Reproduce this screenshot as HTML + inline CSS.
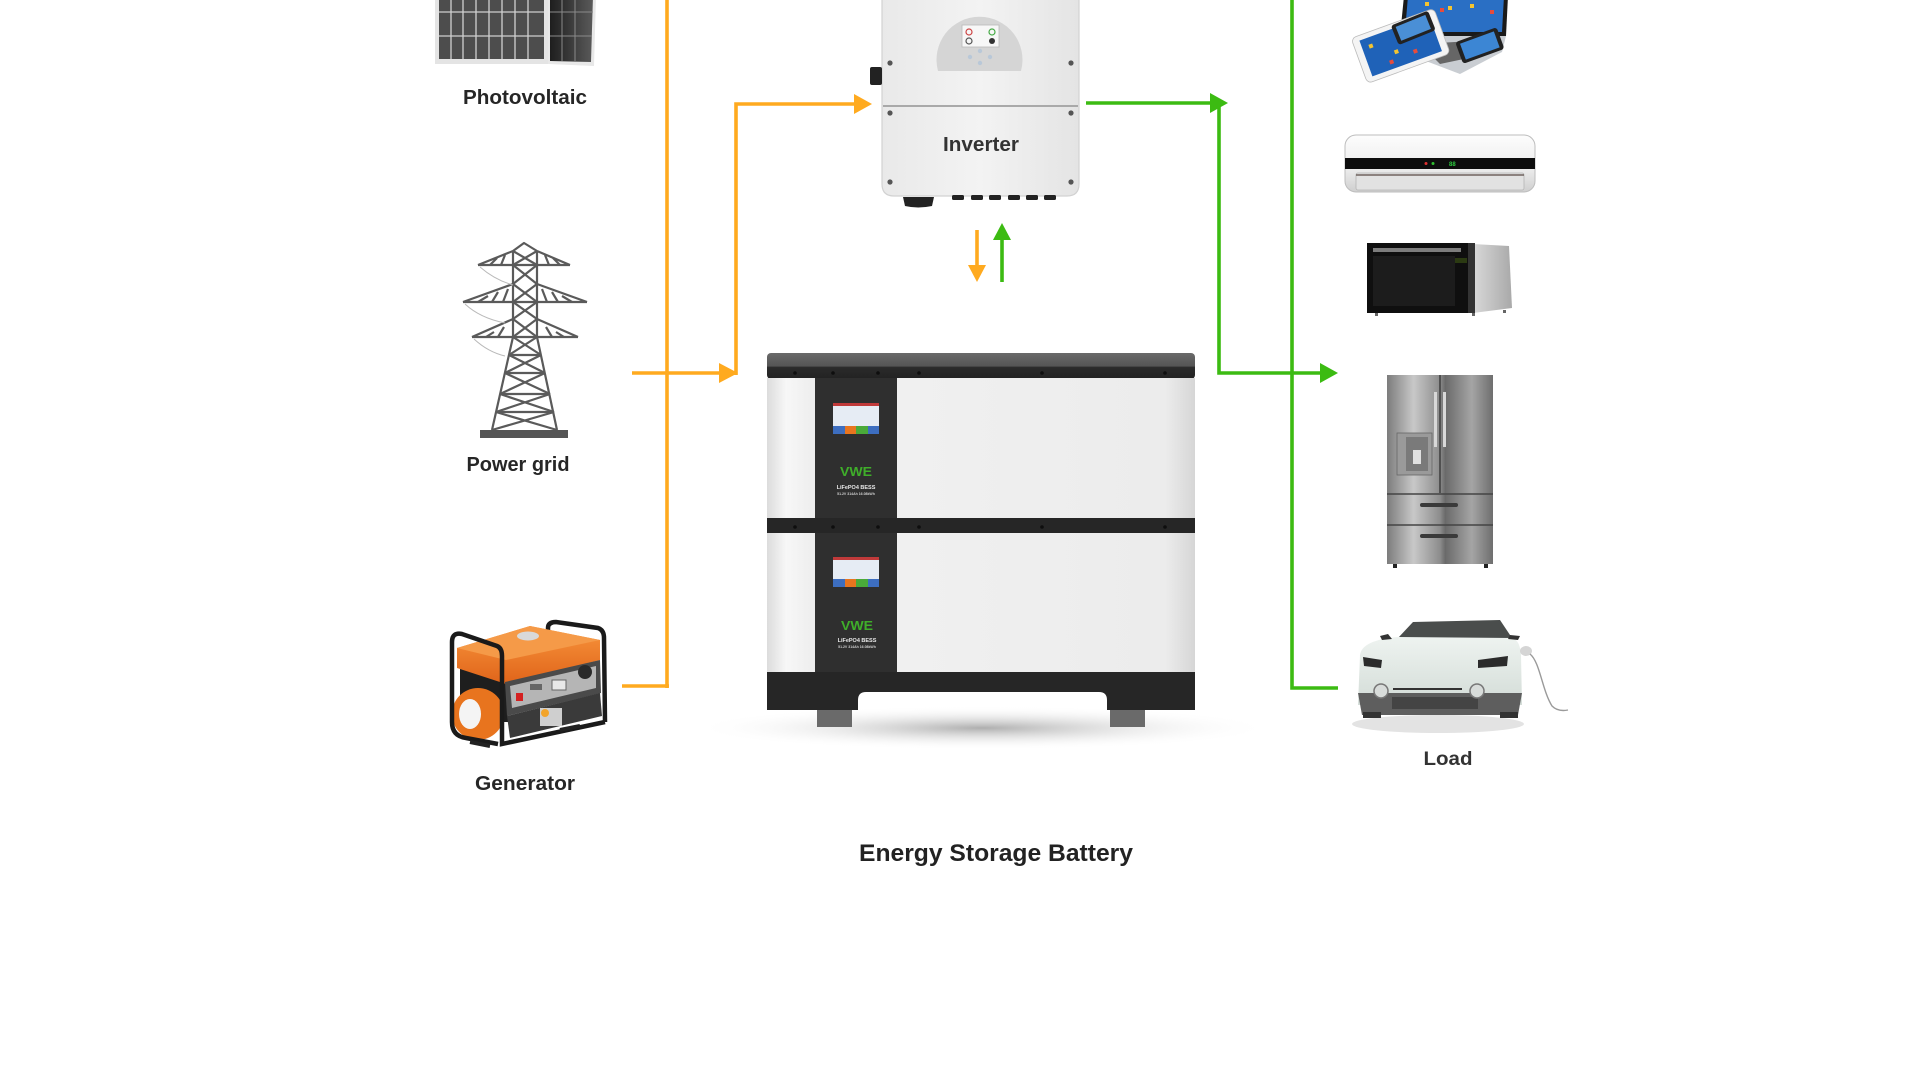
<!DOCTYPE html>
<html>
<head>
<meta charset="utf-8">
<style>
html,body{margin:0;padding:0;background:#fff;}
svg{display:block;}
text{font-family:"Liberation Sans",Arial,sans-serif;font-weight:700;}
</style>
</head>
<body>
<svg width="1920" height="1080" viewBox="0 0 1920 1080" xmlns="http://www.w3.org/2000/svg">
<defs>
  <linearGradient id="invG" x1="0" x2="1" y1="0" y2="0">
    <stop offset="0" stop-color="#e9e9e9"/><stop offset="0.5" stop-color="#f3f3f3"/><stop offset="1" stop-color="#e4e4e4"/>
  </linearGradient>
  <linearGradient id="modL" x1="0" x2="1">
    <stop offset="0" stop-color="#dcdcdc"/><stop offset="0.4" stop-color="#f7f7f7"/><stop offset="1" stop-color="#ededed"/>
  </linearGradient>
  <linearGradient id="modR" x1="0" x2="1">
    <stop offset="0" stop-color="#f0f0f0"/><stop offset="0.9" stop-color="#ececec"/><stop offset="1" stop-color="#d6d6d6"/>
  </linearGradient>
  <linearGradient id="lidG" x1="0" x2="0" y1="0" y2="1">
    <stop offset="0" stop-color="#6a6a6a"/><stop offset="0.5" stop-color="#555"/><stop offset="0.55" stop-color="#2b2b2b"/><stop offset="1" stop-color="#222"/>
  </linearGradient>
  <radialGradient id="shadowG" cx="0.5" cy="0.5" r="0.5">
    <stop offset="0" stop-color="#9a9a9a" stop-opacity="0.8"/><stop offset="1" stop-color="#fff" stop-opacity="0"/>
  </radialGradient>
  <linearGradient id="fridgeG" x1="0" x2="1">
    <stop offset="0" stop-color="#7c7c7c"/><stop offset="0.25" stop-color="#c8c8c8"/><stop offset="0.5" stop-color="#8d8d8d"/><stop offset="0.55" stop-color="#6a6a6a"/><stop offset="0.8" stop-color="#a5a5a5"/><stop offset="1" stop-color="#6e6e6e"/>
  </linearGradient>
  <linearGradient id="acG" x1="0" x2="0" y1="0" y2="1">
    <stop offset="0" stop-color="#fdfdfd"/><stop offset="0.6" stop-color="#ececec"/><stop offset="1" stop-color="#cfcfcf"/>
  </linearGradient>
  <linearGradient id="mwSide" x1="0" x2="1">
    <stop offset="0" stop-color="#d9d9d9"/><stop offset="1" stop-color="#a9a9a9"/>
  </linearGradient>
  <linearGradient id="carG" x1="0" x2="0" y1="0" y2="1">
    <stop offset="0" stop-color="#eef3f0"/><stop offset="1" stop-color="#d3dcd7"/>
  </linearGradient>
  <linearGradient id="pvR" x1="0" x2="1">
    <stop offset="0" stop-color="#1e1e1e"/><stop offset="1" stop-color="#5a5a5a"/>
  </linearGradient>
  <linearGradient id="orangeG" x1="0" x2="0" y1="0" y2="1">
    <stop offset="0" stop-color="#f8953c"/><stop offset="1" stop-color="#e0641a"/>
  </linearGradient>
</defs>

<rect width="1920" height="1080" fill="#fff"/>

<!-- ================= Photovoltaic ================= -->
<g>
  <rect x="435" y="-4" width="113" height="68" fill="#e4e4e4"/>
  <rect x="439" y="-4" width="105" height="63" fill="#4d4d4d"/>
  <g stroke="#cfcfcf" stroke-width="1.3">
    <line x1="439" y1="12" x2="544" y2="12"/>
    <line x1="439" y1="36" x2="544" y2="36"/>
    <line x1="451" y1="-4" x2="451" y2="59"/><line x1="463" y1="-4" x2="463" y2="59"/>
    <line x1="476" y1="-4" x2="476" y2="59"/><line x1="489" y1="-4" x2="489" y2="59"/>
    <line x1="502" y1="-4" x2="502" y2="59"/><line x1="515" y1="-4" x2="515" y2="59"/>
    <line x1="528" y1="-4" x2="528" y2="59"/>
  </g>
  <polygon points="548,-4 596,-4 594,66 548,64" fill="#e8e8e8"/>
  <polygon points="550,-4 593,-4 591,62 550,61" fill="url(#pvR)"/>
  <g stroke="#8a8a8a" stroke-width="1">
    <line x1="550" y1="12" x2="593" y2="12"/><line x1="550" y1="36" x2="592" y2="36"/>
    <line x1="562" y1="-4" x2="562" y2="61"/><line x1="575" y1="-4" x2="575" y2="61"/>
  </g>
</g>
<text x="525" y="104" font-size="20" text-anchor="middle" textLength="124" lengthAdjust="spacingAndGlyphs" style="fill:#262626">Photovoltaic</text>

<!-- ================= Power tower ================= -->
<g stroke="#5a5a5a" stroke-width="2.2" fill="none" stroke-linejoin="round">
  <path d="M513,251 L513,337 L492,430 M537,251 L537,337 L557,430 M513,251 L524,243 L537,251"/>
  <path d="M478,265 L570,265 M478,265 L513,251 M570,265 L537,251"/>
  <path d="M463,302 L587,302 M463,302 L513,284 M587,302 L537,284"/>
  <path d="M472,337 L578,337 M472,337 L513,319 M578,337 L537,319"/>
  <path d="M513,251 L537,265 M537,251 L513,265 M513,265 L537,284 M537,265 L513,284 M513,284 L537,302 M537,284 L513,302 M513,302 L537,319 M537,302 L513,319 M513,319 L537,337 M537,319 L513,337"/>
  <path d="M490,265 L497,258 M501,265 L505,255 M560,265 L553,258 M549,265 L545,255"/>
  <path d="M478,302 L488,296 M492,302 L498,292 M503,302 L508,289 M572,302 L562,296 M558,302 L552,292 M547,302 L542,289"/>
  <path d="M486,337 L494,332 M498,337 L504,327 M564,337 L556,332 M552,337 L546,327"/>
  <path d="M509,355 L541,355 M505,373 L545,373 M500,394 L550,394 M496,412 L554,412"/>
  <path d="M513,337 L541,355 M537,337 L509,355 M509,355 L545,373 M541,355 L505,373 M505,373 L550,394 M545,373 L500,394 M500,394 L554,412 M550,394 L496,412 M496,412 L557,430 M554,412 L492,430"/>
</g>
<g stroke="#b9b9b9" stroke-width="1" fill="none">
  <path d="M480,267 Q495,280 513,285"/>
  <path d="M465,304 Q480,318 505,323"/>
  <path d="M474,339 Q488,352 505,356"/>
</g>
<rect x="480" y="430" width="88" height="8" fill="#555"/>
<text x="518" y="471" font-size="20" text-anchor="middle" textLength="103" lengthAdjust="spacingAndGlyphs" style="fill:#262626">Power grid</text>

<!-- ================= Generator ================= -->
<g>
  <path d="M548,640 L548,628 Q548,622 556,622 L598,628 Q604,630 604,638 L605,722" stroke="#1a1a1a" stroke-width="4.5" fill="none"/>
  <rect x="460" y="664" width="48" height="58" fill="#1e1e1e"/>
  <polygon points="457,648 530,626 600,640 600,660 506,684 457,668" fill="url(#orangeG)"/>
  <polygon points="457,648 530,626 600,640 506,660" fill="#f59a48"/>
  <ellipse cx="528" cy="636" rx="11" ry="4.5" fill="#d9d9d9"/>
  <polygon points="505,682 600,660 601,693 507,716" fill="#4a4a4a"/>
  <polygon points="510,686 596,666 596,688 512,708" fill="#b5b5b5"/>
  <rect x="516" y="693" width="7" height="8" fill="#d42020"/>
  <rect x="530" y="684" width="12" height="6" fill="#666"/>
  <rect x="552" y="680" width="14" height="10" fill="#e8e8e8" stroke="#666" stroke-width="1"/>
  <circle cx="585" cy="672" r="7" fill="#2a2a2a"/>
  <polygon points="507,716 600,693 602,716 510,738" fill="#3a3a3a"/>
  <rect x="540" y="708" width="22" height="18" fill="#cfcfcf"/>
  <circle cx="545" cy="713" r="4" fill="#f2a42a"/>
  <circle cx="478" cy="714" r="26" fill="#e8741e"/>
  <ellipse cx="470" cy="714" rx="11" ry="15" fill="#f4f4f4"/>
  <path d="M452,642 L452,722 Q452,736 466,738 L498,744" stroke="#1a1a1a" stroke-width="4.5" fill="none"/>
  <path d="M452,642 Q452,632 462,634 L497,646 Q502,648 502,656 L502,744 L605,722" stroke="#1a1a1a" stroke-width="4.5" fill="none"/>
  <path d="M470,742 L490,746 M560,730 L580,726" stroke="#222" stroke-width="4"/>
</g>
<text x="525" y="790" font-size="20" text-anchor="middle" textLength="100" lengthAdjust="spacingAndGlyphs" style="fill:#262626">Generator</text>

<!-- ================= Orange lines ================= -->
<g stroke="#FFAA1F" stroke-width="3.6" fill="none">
  <line x1="667" y1="-2" x2="667" y2="688"/>
  <line x1="622" y1="686" x2="669" y2="686"/>
  <line x1="632" y1="373" x2="722" y2="373"/>
  <polyline points="736,375 736,104 856,104"/>
  <line x1="977" y1="230" x2="977" y2="267"/>
</g>
<g fill="#FFAA1F">
  <polygon points="719,363 738,373 719,383"/>
  <polygon points="854,94 872,104 854,114"/>
  <polygon points="968,265 977,282 986,265"/>
</g>

<!-- ================= Green lines ================= -->
<g stroke="#3CBB12" stroke-width="3.6" fill="none">
  <line x1="1086" y1="103" x2="1213" y2="103"/>
  <polyline points="1219,103 1219,373 1322,373"/>
  <polyline points="1292,-2 1292,688 1338,688"/>
  <line x1="1002" y1="282" x2="1002" y2="238"/>
</g>
<g fill="#3CBB12">
  <polygon points="1210,93 1228,103 1210,113"/>
  <polygon points="1320,363 1338,373 1320,383"/>
  <polygon points="993,240 1002,223 1011,240"/>
</g>

<!-- ================= Inverter ================= -->
<g>
  <path d="M882,-6 L1079,-6 L1079,184 Q1079,196 1067,196 L894,196 Q882,196 882,184 Z" fill="url(#invG)" stroke="#d2d2d2" stroke-width="1.2"/>
  <line x1="883" y1="106" x2="1078" y2="106" stroke="#a9a9a9" stroke-width="2"/>
  <path d="M938,71 A43,43 0 1 1 1021,71 Z" fill="#d5d5d5"/>
  <rect x="962" y="25" width="37" height="22" fill="#f7f7f7" stroke="#b8b8b8" stroke-width="0.8"/>
  <circle cx="969" cy="32" r="3" fill="none" stroke="#c44" stroke-width="1.2"/>
  <circle cx="992" cy="32" r="3" fill="none" stroke="#4a4" stroke-width="1.2"/>
  <circle cx="969" cy="41" r="3" fill="none" stroke="#555" stroke-width="1.2"/>
  <circle cx="992" cy="41" r="3" fill="#333"/>
  <g fill="#b9c8d8"><circle cx="980" cy="51" r="2.2"/><circle cx="970" cy="57" r="2.2"/><circle cx="990" cy="57" r="2.2"/><circle cx="980" cy="63" r="2.2"/></g>
  <g fill="#555">
    <circle cx="890" cy="63" r="2.6"/><circle cx="1071" cy="63" r="2.6"/>
    <circle cx="890" cy="113" r="2.6"/><circle cx="1071" cy="113" r="2.6"/>
    <circle cx="890" cy="182" r="2.6"/><circle cx="1071" cy="182" r="2.6"/>
  </g>
  <rect x="870" y="67" width="12" height="18" rx="2" fill="#222"/>
  <path d="M903,197 L934,197 L932,206 Q918,209 905,206 Z" fill="#222"/>
  <g fill="#222">
    <rect x="952" y="195" width="12" height="5" rx="1.5"/><rect x="971" y="195" width="12" height="5" rx="1.5"/>
    <rect x="989" y="195" width="12" height="5" rx="1.5"/><rect x="1008" y="195" width="12" height="5" rx="1.5"/>
    <rect x="1026" y="195" width="12" height="5" rx="1.5"/><rect x="1044" y="195" width="12" height="5" rx="1.5"/>
  </g>
</g>
<text x="981" y="151" font-size="20" text-anchor="middle" textLength="76" lengthAdjust="spacingAndGlyphs" style="fill:#333">Inverter</text>

<!-- ================= Battery ================= -->
<g>
  <ellipse cx="982" cy="728" rx="290" ry="22" fill="url(#shadowG)"/>
  <rect x="767" y="353" width="428" height="26" rx="4" fill="url(#lidG)"/>
  <rect x="767" y="378" width="48" height="141" fill="url(#modL)"/>
  <rect x="815" y="378" width="82" height="141" fill="#2f2f2f"/>
  <rect x="897" y="378" width="298" height="141" fill="url(#modR)"/>
  <rect x="767" y="518" width="428" height="15" fill="#262626"/>
  <rect x="767" y="533" width="48" height="140" fill="url(#modL)"/>
  <rect x="815" y="533" width="82" height="140" fill="#2f2f2f"/>
  <rect x="897" y="533" width="298" height="140" fill="url(#modR)"/>
  <path d="M767,672 L1195,672 L1195,710 L1107,710 L1107,700 Q1107,692 1099,692 L866,692 Q858,692 858,700 L858,710 L767,710 Z" fill="#262626"/>
  <rect x="817" y="710" width="35" height="17" fill="#6a6a6a"/>
  <rect x="1110" y="710" width="35" height="17" fill="#6a6a6a"/>
  <g fill="#0e0e0e">
    <circle cx="795" cy="373" r="1.8"/><circle cx="833" cy="373" r="1.8"/><circle cx="878" cy="373" r="1.8"/><circle cx="919" cy="373" r="1.8"/><circle cx="1042" cy="373" r="1.8"/><circle cx="1165" cy="373" r="1.8"/>
    <circle cx="795" cy="527" r="1.8"/><circle cx="833" cy="527" r="1.8"/><circle cx="878" cy="527" r="1.8"/><circle cx="919" cy="527" r="1.8"/><circle cx="1042" cy="527" r="1.8"/><circle cx="1165" cy="527" r="1.8"/>
  </g>
  <rect x="833" y="403" width="46" height="31" fill="#e6ecf4"/>
  <rect x="833" y="403" width="46" height="3" fill="#c03a3a"/>
  <rect x="833" y="426" width="12" height="8" fill="#3d6ec0"/>
  <rect x="845" y="426" width="11" height="8" fill="#e8751f"/>
  <rect x="856" y="426" width="12" height="8" fill="#4aaa3a"/>
  <rect x="868" y="426" width="11" height="8" fill="#3d6ec0"/>
  <text x="856" y="476" font-size="13" text-anchor="middle" textLength="32" lengthAdjust="spacingAndGlyphs" style="fill:#3fae2a">VWE</text>
  <text x="856" y="489" font-size="5.5" text-anchor="middle" style="fill:#e8e8e8">LiFePO4 BESS</text>
  <text x="856" y="495" font-size="3.5" text-anchor="middle" style="fill:#cfcfcf">51.2V 314Ah 16.08kWh</text>
  <rect x="833" y="557" width="46" height="30" fill="#e6ecf4"/>
  <rect x="833" y="557" width="46" height="3" fill="#c03a3a"/>
  <rect x="833" y="579" width="12" height="8" fill="#3d6ec0"/>
  <rect x="845" y="579" width="11" height="8" fill="#e8751f"/>
  <rect x="856" y="579" width="12" height="8" fill="#4aaa3a"/>
  <rect x="868" y="579" width="11" height="8" fill="#3d6ec0"/>
  <text x="857" y="630" font-size="13" text-anchor="middle" textLength="32" lengthAdjust="spacingAndGlyphs" style="fill:#3fae2a">VWE</text>
  <text x="857" y="642" font-size="5.5" text-anchor="middle" style="fill:#e8e8e8">LiFePO4 BESS</text>
  <text x="857" y="648" font-size="3.5" text-anchor="middle" style="fill:#cfcfcf">51.2V 314Ah 16.08kWh</text>
</g>
<text x="996" y="861" font-size="24" text-anchor="middle" textLength="274" lengthAdjust="spacingAndGlyphs" style="fill:#222">Energy Storage Battery</text>

<!-- ================= Devices (laptop/tablet/phones) ================= -->
<g>
  <polygon points="1404,-4 1508,-4 1506,36 1400,36" fill="#1a1a1a"/>
  <polygon points="1408,-4 1504,-4 1502,32 1405,32" fill="#2a6fc4"/>
  <g fill="#f4c430"><rect x="1425" y="2" width="4" height="4"/><rect x="1448" y="6" width="4" height="4"/><rect x="1470" y="4" width="4" height="4"/></g>
  <g fill="#e74c3c"><rect x="1440" y="8" width="4" height="4"/><rect x="1490" y="10" width="4" height="4"/></g>
  <polygon points="1400,36 1506,36 1502,52 1460,74 1418,58" fill="#c9cdd2"/>
  <polygon points="1420,44 1490,40 1478,56 1440,64" fill="#666"/>
  <g transform="rotate(-20 1400 44)">
    <rect x="1356" y="22" width="88" height="48" rx="5" fill="#f4f4f4" stroke="#bbb" stroke-width="0.8"/>
    <rect x="1363" y="27" width="74" height="38" fill="#1f62b8"/>
    <g fill="#f4c430"><rect x="1370" y="34" width="4" height="4"/><rect x="1392" y="48" width="4" height="4"/></g>
    <g fill="#e74c3c"><rect x="1410" y="54" width="4" height="4"/><rect x="1384" y="56" width="4" height="4"/></g>
  </g>
  <g transform="rotate(-22 1412 30)">
    <rect x="1394" y="18" width="40" height="21" rx="3" fill="#222"/>
    <rect x="1398" y="21" width="32" height="15" fill="#4a8fd6"/>
  </g>
  <g transform="rotate(-20 1480 46)">
    <rect x="1458" y="34" width="44" height="23" rx="3" fill="#222"/>
    <rect x="1462" y="37" width="36" height="17" fill="#3c86d4"/>
  </g>
</g>

<!-- ================= Air conditioner ================= -->
<g>
  <rect x="1345" y="135" width="190" height="57" rx="11" fill="url(#acG)" stroke="#bdbdbd" stroke-width="1"/>
  <rect x="1345" y="158" width="190" height="11" fill="#0d0d0d"/>
  <rect x="1356" y="173" width="168" height="17" rx="2" fill="#e2e2e2" stroke="#b5b5b5" stroke-width="0.8"/>
  <line x1="1356" y1="175" x2="1524" y2="175" stroke="#5a4a44" stroke-width="1.2"/>
  <circle cx="1426" cy="163.5" r="1.5" fill="#e03030"/>
  <circle cx="1433" cy="163.5" r="1.5" fill="#30c030"/>
  <text x="1449" y="166" font-size="6" style="fill:#2ecc40">88</text>
</g>

<!-- ================= Microwave ================= -->
<g>
  <polygon points="1473,244 1509,246 1512,308 1473,313" fill="url(#mwSide)"/>
  <rect x="1367" y="243" width="106" height="70" fill="#0f0f0f"/>
  <rect x="1373" y="248" width="88" height="4" fill="#7d7d7d"/>
  <rect x="1373" y="256" width="82" height="50" fill="#1c1c1c"/>
  <rect x="1468" y="243" width="7" height="70" fill="#333"/>
  <rect x="1455" y="258" width="12" height="5" fill="#2b3a12"/>
  <g fill="#666"><rect x="1375" y="313" width="3" height="3"/><rect x="1472" y="313" width="3" height="3"/><rect x="1503" y="310" width="3" height="3"/></g>
</g>

<!-- ================= Fridge ================= -->
<g>
  <rect x="1387" y="375" width="106" height="189" fill="url(#fridgeG)"/>
  <line x1="1440" y1="375" x2="1440" y2="493" stroke="#3d3d3d" stroke-width="1.5"/>
  <line x1="1387" y1="494" x2="1493" y2="494" stroke="#444" stroke-width="1.5"/>
  <line x1="1387" y1="525" x2="1493" y2="525" stroke="#444" stroke-width="1.5"/>
  <rect x="1434" y="392" width="3" height="55" fill="#d8d8d8"/>
  <rect x="1443" y="392" width="3" height="55" fill="#d8d8d8"/>
  <rect x="1397" y="433" width="35" height="42" fill="#9a9a9a" stroke="#666" stroke-width="0.8"/>
  <rect x="1406" y="437" width="22" height="34" fill="#7a7a7a"/>
  <rect x="1413" y="450" width="8" height="14" fill="#e0e0e0"/>
  <rect x="1420" y="503" width="38" height="4" rx="2" fill="#3a3a3a"/>
  <rect x="1420" y="534" width="38" height="4" rx="2" fill="#3a3a3a"/>
  <rect x="1393" y="564" width="4" height="4" fill="#222"/>
  <rect x="1484" y="564" width="4" height="4" fill="#222"/>
</g>

<!-- ================= Car ================= -->
<g>
  <ellipse cx="1438" cy="724" rx="86" ry="9" fill="#dcdcdc" opacity="0.8"/>
  <path d="M1398,638 L1413,622 L1500,620 L1512,638 Z" fill="#4a4d4c"/>
  <path d="M1360,655 Q1362,640 1398,637 L1512,638 Q1520,640 1521,655 L1522,705 L1358,705 Z" fill="url(#carG)"/>
  <path d="M1388,634 L1380,636 L1382,640 L1392,639 Z" fill="#333"/>
  <path d="M1510,635 L1520,636 L1518,640 L1508,639 Z" fill="#333"/>
  <path d="M1363,657 L1382,660 L1381,668 L1364,666 Z" fill="#2b2b2b"/>
  <path d="M1478,660 L1508,656 L1507,666 L1478,668 Z" fill="#2b2b2b"/>
  <line x1="1393" y1="689" x2="1462" y2="689" stroke="#333" stroke-width="2"/>
  <path d="M1358,693 L1522,693 L1518,715 L1362,715 Z" fill="#5e5e5e"/>
  <rect x="1392" y="697" width="86" height="12" fill="#444"/>
  <circle cx="1381" cy="691" r="7" fill="#d8dcda" stroke="#777" stroke-width="1.5"/>
  <circle cx="1477" cy="691" r="7" fill="#d8dcda" stroke="#777" stroke-width="1.5"/>
  <rect x="1363" y="712" width="18" height="6" fill="#333"/>
  <rect x="1500" y="712" width="18" height="6" fill="#333"/>
  <ellipse cx="1526" cy="651" rx="6" ry="5" fill="#d5d5d5"/>
  <path d="M1530,654 C1540,662 1542,690 1552,706 Q1558,712 1568,710" stroke="#9a9a9a" stroke-width="1.4" fill="none"/>
</g>
<text x="1448" y="765" font-size="19" text-anchor="middle" textLength="49" lengthAdjust="spacingAndGlyphs" style="fill:#333">Load</text>

</svg>
</body>
</html>
